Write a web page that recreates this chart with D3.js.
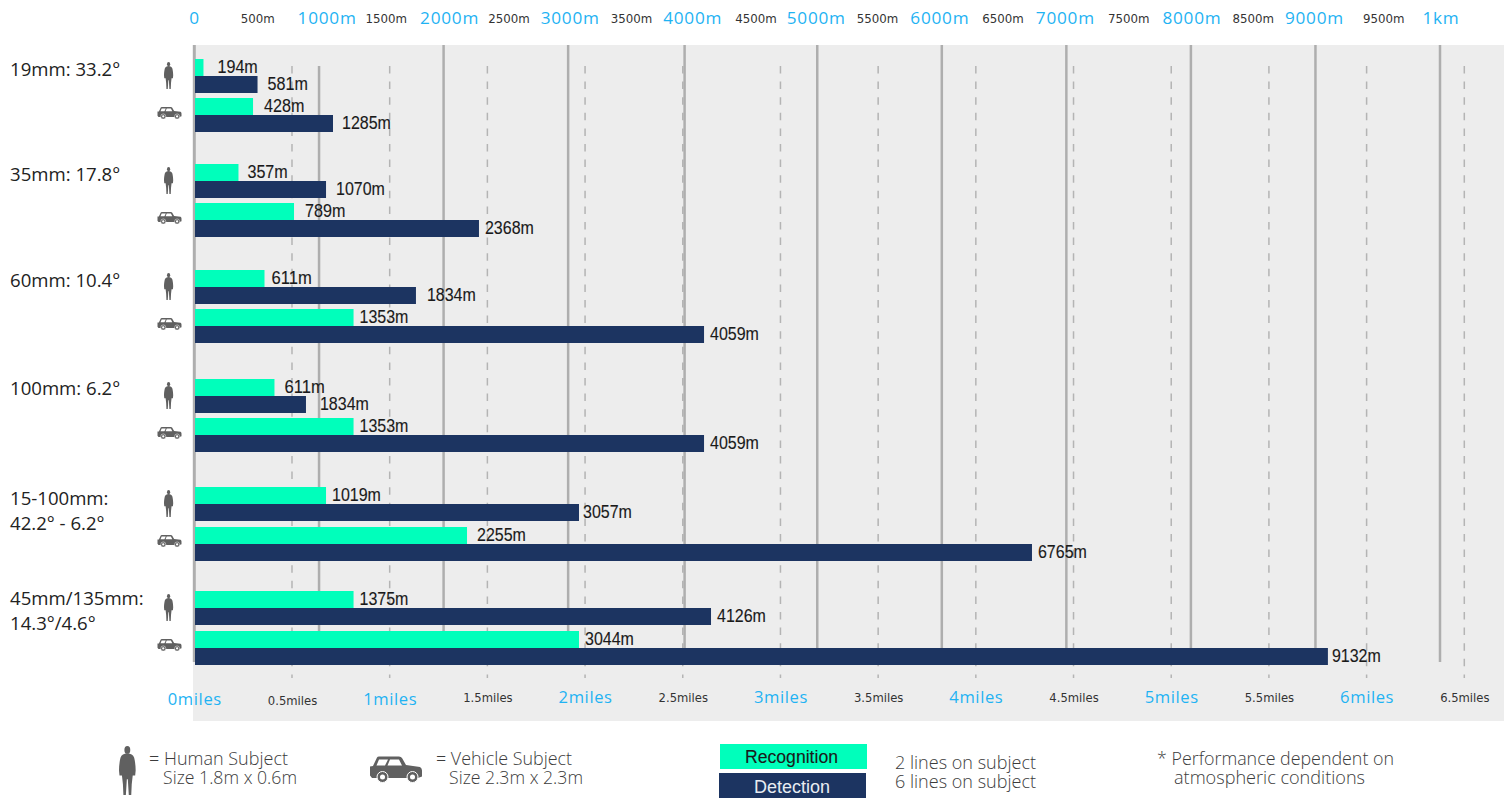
<!DOCTYPE html>
<html>
<head>
<meta charset="utf-8">
<script src="https://cdn.jsdelivr.net/npm/d3@7"></script>
<style>
  html, body { margin: 0; padding: 0; background: #fff; }
  svg { display: block; }
  .num { font-family: "Liberation Sans", sans-serif; fill: #1a1a1a; font-size: 17.5px; stroke: #1a1a1a; stroke-width: 0.12px; }
  .note { font-family: "Open Sans", sans-serif; font-weight: 300; font-size: 17.6px; fill: #3c3c3c; }
</style>
</head>
<body>
<script>
// lens rows
const lensLines = [
  ["19mm: 33.2°"],
  ["35mm: 17.8°"],
  ["60mm: 10.4°"],
  ["100mm: 6.2°"],
  ["15-100mm:", "42.2° - 6.2°"],
  ["45mm/135mm:", "14.3°/4.6°"]
];

// the numbers printed next to the bars
const humanRecognitionText = [194, 357, 611, 611, 1019, 1375];
const humanDetectionText = [581, 1070, 1834, 1834, 3057, 4126];
const vehicleRecognitionText = [428, 789, 1353, 1353, 2255, 3044];
const vehicleDetectionText = [1285, 2368, 4059, 4059, 6765, 9132];

// bar lengths as read against the metre axis, these differ from the printed numbers in the source
const humanRecognitionDrawn = [68, 349, 558, 638, 1052, 1273];
const humanDetectionDrawn = [502, 1052, 1774, 891, 3083, 4143];
const vehicleRecognitionDrawn = [466, 795, 1273, 1273, 2184, 3083];
const vehicleDetectionDrawn = [1108, 2280, 4087, 4087, 6720, 9096];

// axes
const metreTicks = d3.range(0, 10001, 500);
const metreTickLabels = ["0", "500m", "1000m", "1500m", "2000m", "2500m", "3000m", "3500m", "4000m", "4500m", "5000m",
  "5500m", "6000m", "6500m", "7000m", "7500m", "8000m", "8500m", "9000m", "9500m", "1km"];
const mileTicks = d3.range(0, 6.51, 0.5);
const mileTickLabels = ["0miles", "0.5miles", "1miles", "1.5miles", "2miles", "2.5miles", "3miles", "3.5miles",
  "4miles", "4.5miles", "5miles", "5.5miles", "6miles", "6.5miles"];
const solidGrid = [1000, 2000, 3000, 3935, 5000, 6000, 7000, 8000, 9000, 10000];

const green = "#00ffbb", navy = "#1c3461", blue = "#1fb3f3", grey = "#606060", gridCol = "#aeaeae";

// layout tweaks, the source labels are hand placed
const topDx = [-1, 0, 7, 4, 5, 2, 1, 0, -1, 0, -2, -3, -3, -2, -2, -1, 0, -1, -2, 5, 0];
const humanRecGap = [14, 9, 7, 10, 6, 6];
const humanDetGap = [10, 10, 11, 14, 4, 6];
const vehicleRecGap = [11, 11, 6, 6, 10, 6];
const vehicleDetGap = [9, 6, 6, 6, 6, 4];
const lensDy = [17, 17, 17, 16, 18, 14];

const svg = d3.select("body").append("svg").attr("width", 1509).attr("height", 798);

const x = d3.scaleLinear().domain([0, 10000]).range([195, 1440.5]);
const xMiles = d3.scaleLinear().domain([0, 6.5]).range([194.3, 1464.3]);
const groupY = d3.scaleLinear().domain([0, 1, 2, 3, 4, 5]).range([59, 164, 270, 379, 487, 591]);
const rowY = d3.scaleOrdinal().domain([0, 1, 2, 3]).range([0, 17, 39, 56]);
const barH = 17;
// last two groups sit one pixel lower on the vehicle rows
const rowTop = (i, ri) => groupY(i) + rowY(ri) + (i >= 4 && ri >= 2 ? 1 : 0);

// panel
svg.append("rect").attr("x", 193).attr("y", 45).attr("width", 1311).attr("height", 676).attr("fill", "#ededed");

// dashed mile lines
svg.append("g").selectAll("line").data(mileTicks.slice(1)).enter().append("line")
  .attr("x1", d => xMiles(d)).attr("x2", d => xMiles(d))
  .attr("y1", 66).attr("y2", 678)
  .attr("stroke", "#b4b4b4").attr("stroke-width", 1.5).attr("stroke-dasharray", "7.5 8.1");

// solid metre lines
svg.append("g").selectAll("line").data(solidGrid).enter().append("line")
  .attr("x1", d => x(d) - 0.5).attr("x2", d => x(d) - 0.5)
  .attr("y1", d => d == 1000 ? 66 : 45).attr("y2", 662)
  .attr("stroke", gridCol).attr("stroke-width", 2.5);
svg.append("line").attr("x1", x(0) - 0.7).attr("x2", x(0) - 0.7).attr("y1", 45).attr("y2", 662)
  .attr("stroke", gridCol).attr("stroke-width", 3);

// width of a printed number in the condensed face of the source
const numWidth = d => String(d).length * 8.6 + 14.5;

// bars
const rows = [
  { drawn: humanRecognitionDrawn, text: humanRecognitionText, gap: humanRecGap, fill: green },
  { drawn: humanDetectionDrawn, text: humanDetectionText, gap: humanDetGap, fill: navy },
  { drawn: vehicleRecognitionDrawn, text: vehicleRecognitionText, gap: vehicleRecGap, fill: green },
  { drawn: vehicleDetectionDrawn, text: vehicleDetectionText, gap: vehicleDetGap, fill: navy }
];
rows.forEach(function(r, ri) {
  const g = svg.append("g");
  g.selectAll("rect").data(r.drawn).enter().append("rect")
    .attr("x", x(0))
    .attr("y", (d, i) => rowTop(i, ri))
    .attr("width", d => x(d) - x(0))
    .attr("height", barH)
    .attr("fill", r.fill);
  g.selectAll("text").data(r.text).enter().append("text")
    .attr("class", "num")
    .attr("x", (d, i) => x(r.drawn[i]) + r.gap[i])
    .attr("y", (d, i) => rowTop(i, ri) + 13.5)
    .attr("textLength", d => numWidth(d))
    .attr("lengthAdjust", "spacingAndGlyphs")
    .text(d => d + "m");
});

// lens labels
const lensG = svg.append("g").selectAll("text").data(lensLines).enter().append("text")
  .attr("font-family", "Open Sans").attr("font-size", 18.6).attr("fill", "#222");
lensG.selectAll("tspan").data(d => d).enter().append("tspan")
  .attr("x", 10)
  .attr("dy", (d, i) => i == 0 ? 0 : 25)
  .text(d => d);
lensG.attr("y", (d, i) => groupY(i) + lensDy[i]);
// tspans carry no y of their own, so the first line sits on the text y
lensG.each(function(d, i) {
  d3.select(this).selectAll("tspan").attr("y", (t, j) => groupY(i) + lensDy[i] + j * 25).attr("dy", 0);
});

// top axis
const topAxis = svg.append("g").attr("transform", "translate(0,24)")
  .call(d3.axisTop(x).tickValues(metreTicks).tickSize(0).tickFormat((d, i) => metreTickLabels[i]));
topAxis.select(".domain").remove();
topAxis.selectAll(".tick text")
  .attr("x", (d, i) => topDx[i]).attr("y", (d, i) => i % 2 ? -1 : 0).attr("dy", 0)
  .attr("font-family", (d, i) => i % 2 ? "DejaVu Sans" : "Open Sans")
  .attr("font-size", (d, i) => i % 2 ? 11.8 : 17.2)
  .attr("letter-spacing", (d, i) => i % 2 ? 0 : 0.75)
  .attr("fill", (d, i) => i % 2 ? "#333" : blue);

// bottom axis
const bottomAxis = svg.append("g").attr("transform", "translate(0,702)")
  .call(d3.axisBottom(xMiles).tickValues(mileTicks).tickSize(0).tickFormat((d, i) => mileTickLabels[i]));
bottomAxis.select(".domain").remove();
bottomAxis.selectAll(".tick text")
  .attr("x", 0)
  .attr("y", (d, i) => i <= 2 ? 3 : (i % 2 ? 0 : 1))
  .attr("dy", 0)
  .attr("font-family", (d, i) => i % 2 ? "DejaVu Sans" : "Open Sans")
  .attr("font-size", (d, i) => i % 2 ? 11.6 : 16.6)
  .attr("letter-spacing", (d, i) => i % 2 ? 0 : 0.6)
  .attr("fill", (d, i) => i % 2 ? "#333" : blue);

// icons
function human(sel, px, py, h) {
  const k = h / 100;
  const g = sel.append("g").attr("transform", "translate(" + px + "," + py + ") scale(" + k + ")").attr("fill", grey);
  g.append("ellipse").attr("cx", 17).attr("cy", 8).attr("rx", 6).attr("ry", 8);
  g.append("path").attr("d", "M17 15 C24 16 29 18 31 24 C33 32 34 42 34 50 L33 60 L28 60 L26 78 L25 100 L20 100 L18 68 L16 68 L14 100 L9 100 L8 78 L6 60 L1 60 L0 50 C0 42 1 32 3 24 C5 18 10 16 17 15Z");
}
function car(sel, px, py, w) {
  const k = w / 52;
  const g = sel.append("g").attr("transform", "translate(" + px + "," + py + ") scale(" + k + ")");
  g.append("path").attr("fill", grey)
    .attr("d", "M0 10 L3 9.5 L7 1 Q7.5 0 9 0 L29 0 Q31 0 32 1.5 L36 8.5 L50 10.5 Q52 11.5 52 14 L52 20 L48 21.5 L2 21.5 L0 19Z");
  g.append("path").attr("fill", "#fff").attr("d", "M9 3 L18 3 L15 9 L6.5 9Z M20 3 L29 3 L32 9 L17.5 9Z");
  [12.5, 42.5].forEach(function(c) {
    g.append("circle").attr("cx", c).attr("cy", 20.5).attr("r", 5.5).attr("fill", grey).attr("stroke", "#fff").attr("stroke-width", 1);
    g.append("circle").attr("cx", c).attr("cy", 20.5).attr("r", 2.5).attr("fill", "#fff");
  });
}
lensLines.forEach(function(d, i) {
  human(svg, 164, groupY(i) + 3, 27);
  car(svg, 157.5, groupY(i) + 48, 24);
});

// legend
human(svg, 119, 746, 49);
car(svg, 370, 756.5, 52);

const notes = [
  ["= Human Subject", 149, 765, 139], ["Size 1.8m x 0.6m", 163, 784, 134],
  ["= Vehicle Subject", 436, 765, 136], ["Size 2.3m x 2.3m", 449, 784, 134],
  ["2 lines on subject", 895, 769, 141], ["6 lines on subject", 895, 788, 141],
  ["* Performance dependent on", 1157, 765, 237], ["atmospheric conditions", 1174, 784, 191]
];
svg.append("g").selectAll("text").data(notes).enter().append("text")
  .attr("class", "note")
  .attr("x", d => d[1]).attr("y", d => d[2])
  .attr("textLength", d => d[3])
  .attr("lengthAdjust", "spacingAndGlyphs")
  .text(d => d[0]);

svg.append("rect").attr("x", 720).attr("y", 744).attr("width", 147).attr("height", 25).attr("fill", green);
svg.append("rect").attr("x", 719).attr("y", 773).attr("width", 147).attr("height", 25).attr("fill", navy);
svg.append("text").attr("class", "num").attr("x", 745).attr("y", 763)
  .attr("textLength", 93).attr("lengthAdjust", "spacingAndGlyphs").text("Recognition");
svg.append("text").attr("class", "num").attr("x", 754).attr("y", 793)
  .attr("textLength", 76).attr("lengthAdjust", "spacingAndGlyphs")
  .style("fill", "#e8ecf2").style("stroke", "none").text("Detection");
</script>
</body>
</html>
